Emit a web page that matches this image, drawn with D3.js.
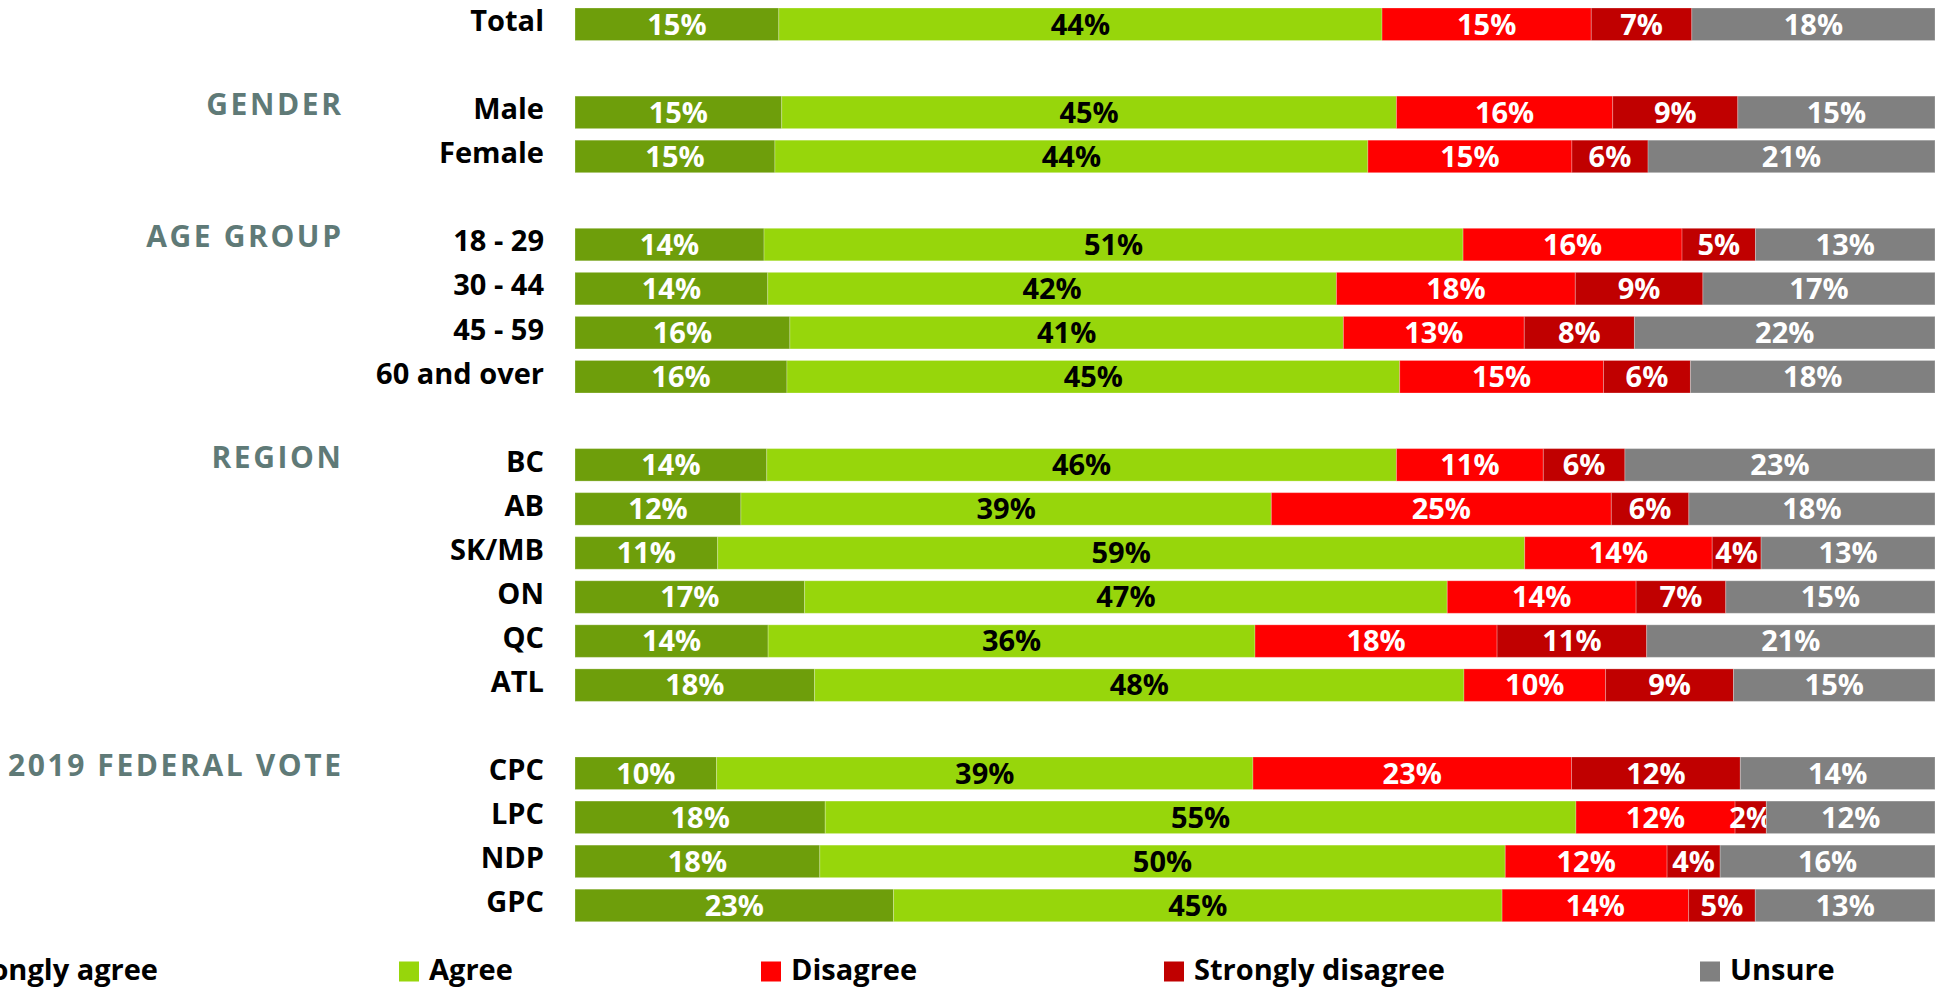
<!DOCTYPE html>
<html>
<head>
<meta charset="utf-8">
<script src="https://cdn.jsdelivr.net/npm/d3@7"></script>
<style>
  body { margin: 0; background: #fff; overflow: hidden; }
  svg text { font-family: 'Open Sans', sans-serif; font-weight: 700; }
</style>
</head>
<body>
<svg id="chart"></svg>
<script>
// rows, top to bottom
const rowLabels = ['Total', 'Male', 'Female', '18 - 29', '30 - 44', '45 - 59', '60 and over',
  'BC', 'AB', 'SK/MB', 'ON', 'QC', 'ATL', 'CPC', 'LPC', 'NDP', 'GPC'];
const rowGroup = [0, 1, 1, 2, 2, 2, 2, 3, 3, 3, 3, 3, 3, 4, 4, 4, 4];
const groupNames = ['', 'GENDER', 'AGE GROUP', 'REGION', '2019 FEDERAL VOTE'];
const seriesNames = ['Strongly agree', 'Agree', 'Disagree', 'Strongly disagree', 'Unsure'];

// percentages (labels are the rounded values)
const stronglyAgree    = [15.0, 15.2, 14.7, 13.9, 14.2, 15.8, 15.6, 14.1, 12.2, 10.5, 16.9, 14.2, 17.6, 10.4, 18.4, 18.0, 23.4];
const agree            = [44.4, 45.2, 43.6, 51.4, 41.9, 40.7, 45.1, 46.3, 39.0, 59.4, 47.3, 35.8, 47.7, 39.4, 55.2, 50.4, 44.7];
const disagree         = [15.4, 15.9, 15.0, 16.1, 17.6, 13.3, 15.0, 10.8, 25.0, 13.8, 13.9, 17.8, 10.4, 23.4, 11.7, 11.9, 13.7];
const stronglyDisagree = [7.4, 9.2, 5.6, 5.4, 9.4, 8.1, 6.4, 6.0, 5.7, 3.6, 6.6, 11.0, 9.4, 12.4, 2.3, 3.9, 4.9];
const unsure           = [17.9, 14.5, 21.1, 13.2, 17.1, 22.1, 18.0, 22.8, 18.1, 12.8, 15.4, 21.2, 14.8, 14.3, 12.4, 15.8, 13.2];

const colors = ['#6e9e0b', '#97d60b', '#ff0000', '#c00000', '#808080'];
const labelColors = ['#fff', '#000', '#fff', '#fff', '#fff'];

const width = 1940;
const height = 987;
const barLeft = 575;
const barRight = 1935;
const fontSize = 29;
const capHalf = fontSize * 0.357; // baseline shift to center caps

const svg = d3.select('#chart')
    .attr('width', width)
    .attr('height', height);

const seriesValues = [stronglyAgree, agree, disagree, stronglyDisagree, unsure];

const table = rowLabels.map((label, i) => {
  const row = {label, slot: i + rowGroup[i], group: rowGroup[i]};
  seriesNames.forEach((s, k) => row[s] = seriesValues[k][i]);
  return row;
});

const stacked = d3.stack()
    .keys(seriesNames)
    .offset(d3.stackOffsetExpand)(table);

const nSlots = d3.max(table, d => d.slot) + 1;

const x = d3.scaleLinear()
    .domain([0, 1])
    .range([barLeft, barRight]);

const y = d3.scaleBand()
    .domain(d3.range(nSlots))
    .range([8, 921.7])
    .paddingInner(0.262);

const mid = slot => y(slot) + y.bandwidth() / 2;

// bars
const layer = svg.selectAll('.layer')
    .data(stacked)
  .enter().append('g')
    .attr('class', 'layer')
    .attr('fill', (d, k) => colors[k]);

layer.selectAll('rect')
    .data(d => d)
  .enter().append('rect')
    .attr('x', d => x(d[0]))
    .attr('y', d => y(d.data.slot))
    .attr('width', d => x(d[1]) - x(d[0]))
    .attr('height', y.bandwidth())
    .attr('stroke', '#fff')
    .attr('stroke-opacity', 0.25)
    .attr('stroke-width', 1);

// value labels
layer.selectAll('text')
    .data((d, k) => d.map(p => ({p, k, key: d.key})))
  .enter().append('text')
    .attr('x', d => (x(d.p[0]) + x(d.p[1])) / 2)
    .attr('y', d => mid(d.p.data.slot) + capHalf)
    .attr('text-anchor', 'middle')
    .attr('font-size', fontSize)
    .attr('fill', d => labelColors[d.k])
    .text(d => Math.round(d.p.data[d.key]) + '%');

// row labels
svg.selectAll('.row-label')
    .data(table)
  .enter().append('text')
    .attr('class', 'row-label')
    .attr('x', 544)
    .attr('y', d => mid(d.slot) - 3.5 + capHalf)
    .attr('text-anchor', 'end')
    .attr('font-size', fontSize)
    .attr('fill', '#000')
    .text(d => d.label);

// group labels next to the first row of each group
const groupFirst = groupNames.map((g, gi) => table.find(r => r.group === gi))
    .map((r, gi) => ({name: groupNames[gi], slot: r.slot}))
    .filter(d => d.name);

svg.selectAll('.group-label')
    .data(groupFirst)
  .enter().append('text')
    .attr('class', 'group-label')
    .attr('x', 341 + 2.6)
    .attr('y', d => mid(d.slot) - 7.5 + capHalf)
    .attr('text-anchor', 'end')
    .attr('font-size', 30)
    .attr('letter-spacing', 2.6)
    .attr('fill', '#5f7a77')
    .text(d => d.name);

// legend
const legendX = [null, 399, 761, 1164, 1700];
const legendY = 969.5;

const item = svg.selectAll('.legend')
    .data(seriesNames)
  .enter().append('g')
    .attr('class', 'legend');

item.append('text')
    .attr('y', legendY + capHalf)
    .attr('font-size', fontSize)
    .attr('fill', '#000')
    .text(d => d);

item.each(function(d, k) {
  const g = d3.select(this);
  const len = g.select('text').node().getComputedTextLength();
  // first entry is cut off by the left edge, its text ends at x=158
  const sx = k === 0 ? 158 - len - 30 : legendX[k];
  g.select('text').attr('x', sx + 30);
  g.insert('rect', 'text')
      .attr('x', sx)
      .attr('y', legendY - 8)
      .attr('width', 20)
      .attr('height', 20)
      .attr('fill', colors[k]);
});
</script>
</body>
</html>
